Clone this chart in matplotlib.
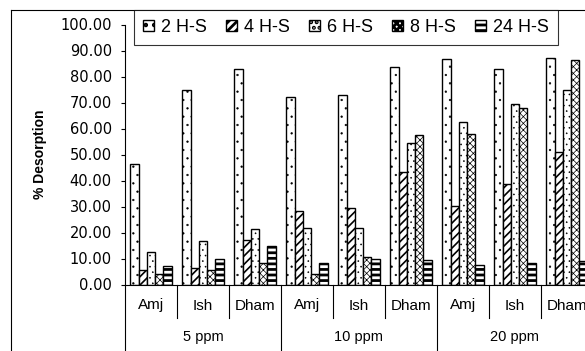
import matplotlib
matplotlib.use('Agg')
import matplotlib.pyplot as plt
from matplotlib.lines import Line2D

# 数据
concentrations = ['5 ppm', '10 ppm', '20 ppm']
sites = ['Amj', 'Ish', 'Dham']
series = ['2 H-S', '4 H-S', '6 H-S', '8 H-S', '24 H-S']
hs2 = [46.5, 74.8, 82.8, 72.0, 73.0, 83.8, 86.6, 82.8, 87.0]
hs4 = [5.6, 6.2, 17.0, 28.3, 29.3, 43.4, 30.2, 38.7, 50.8]
hs6 = [12.6, 16.9, 21.2, 21.6, 21.6, 54.3, 62.4, 69.3, 74.8]
hs8 = [3.9, 5.6, 8.1, 3.9, 10.5, 57.4, 58.0, 67.9, 86.5]
hs24 = [7.1, 9.8, 14.7, 8.3, 9.8, 9.4, 7.6, 8.1, 9.0]

values = [hs2, hs4, hs6, hs8, hs24]
hatches = ['..', '////', '...', 'xxxxx', '---']
hatch_lw = [0.4, 1.2, 0.4, 0.5, 2.0]

plt.rcParams['font.family'] = ['Liberation Sans', 'DejaVu Sans']

fig = plt.figure(figsize=(5.85, 3.51), dpi=100)
W, H = 585.0, 351.0
ax = fig.add_axes([125 / W, 1 - 284.5 / H, 468 / W, 260 / H])

n_groups = len(hs2)
w = 0.158
for k, vals in enumerate(values):
    plt.rcParams['hatch.linewidth'] = hatch_lw[k]
    xs = [i + 0.5 + (k - 2) * w for i in range(n_groups)]
    bars = ax.bar(xs, vals, width=w, color='white', edgecolor='black',
                  linewidth=1.0, hatch=hatches[k], label=series[k])
    for b in bars:
        if hasattr(b, 'set_hatch_linewidth'):
            b.set_hatch_linewidth(hatch_lw[k])

ax.set_xlim(0, n_groups)
ax.set_ylim(0, 100)
ax.set_yticks(range(0, 101, 10))
ax.set_yticklabels(['%.2f' % v for v in range(0, 101, 10)],
                   family='DejaVu Sans', fontsize=10.5)
ax.tick_params(axis='y', direction='out', length=3, width=0.8, pad=6.5)
ax.set_xticks([])
for s in ['top', 'right']:
    ax.spines[s].set_visible(False)
ax.spines['left'].set_linewidth(0.8)
ax.spines['bottom'].set_linewidth(0.8)

ax.set_ylabel('% Desorption', fontsize=10, fontweight='bold')
ax.yaxis.set_label_coords(-78 / 468, 0.5)

# 两级分类轴
trans = ax.get_xaxis_transform()
ax.plot([0, 0], [0, -0.5], color='black', lw=0.8, transform=trans, clip_on=False)
for i in range(1, n_groups + 1):
    bottom = -0.5 if i % 3 == 0 else -33 / 260
    ax.plot([i, i], [0, bottom], color='black', lw=0.8, transform=trans,
            clip_on=False)
for i in range(n_groups):
    ax.text(i + 0.5, -21 / 260, sites[i % 3], transform=trans, ha='center',
            va='center', fontsize=11)
for j, c in enumerate(concentrations):
    ax.text(j * 3 + 1.5, -53 / 260, c, transform=trans, ha='center',
            va='center', fontsize=10.5)

leg = fig.legend(loc='upper left', bbox_to_anchor=(134 / W, 1 - 10 / H),
                 ncol=5, fontsize=13, frameon=True, fancybox=False,
                 edgecolor='black', borderaxespad=0, borderpad=0.5,
                 handlelength=0.6, handleheight=0.6, handletextpad=0.4,
                 columnspacing=1.05)
leg.get_frame().set_linewidth(0.8)

# 外框
fig.add_artist(Line2D([11 / W, 11 / W], [1 - 10 / H, 0], color='black', lw=0.8))
fig.add_artist(Line2D([11 / W, 1], [1 - 10 / H, 1 - 10 / H], color='black', lw=0.8))

fig.savefig('out.png', dpi=100)
